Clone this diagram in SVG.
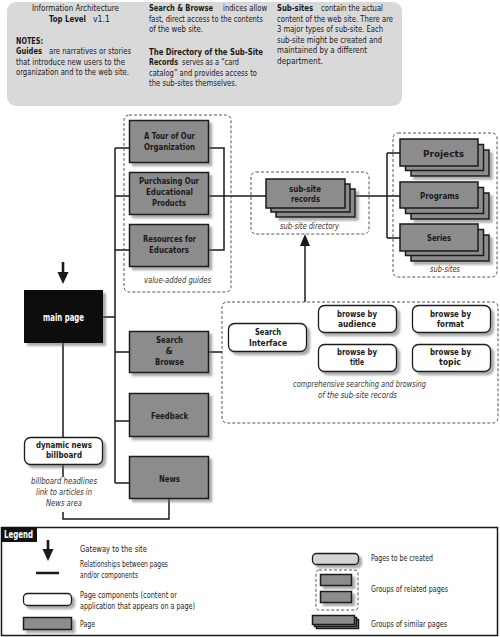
<svg xmlns="http://www.w3.org/2000/svg" width="500" height="637" viewBox="0 0 500 637">
<style>
text{font-family:"Liberation Sans Narrow","DejaVu Sans Condensed","Liberation Sans",sans-serif;fill:#1a1a1a}
.n{font-size:8.8px}
.hb{font-weight:bold}
.b{font-size:9.2px;font-weight:bold;text-anchor:middle}
.bw{font-size:10px;font-weight:bold;text-anchor:middle;fill:#fff}
.i{font-size:9px;font-style:italic;text-anchor:middle;fill:#333}
.pg{fill:#8c8c8c;stroke:#1a1a1a;stroke-width:1.5}
.cp{fill:#fff;stroke:#1a1a1a;stroke-width:1.3}
.grp{fill:none;stroke:#555;stroke-width:1;stroke-dasharray:3 2}
.ln{fill:none;stroke:#1a1a1a;stroke-width:1.5}
.sh{filter:url(#ds)}
</style>
<defs>
<filter id="ds" x="-20%" y="-20%" width="150%" height="160%">
<feDropShadow dx="3" dy="3" stdDeviation="1.2" flood-color="#666" flood-opacity="0.55"/>
</filter>
</defs>

<g id="notes">
<rect x="7" y="2" width="395" height="104" rx="9" fill="#d9d9d9"/>
<text class="n" x="75.5" y="11.3" text-anchor="middle" textLength="87" lengthAdjust="spacingAndGlyphs">Information Architecture</text>
<text class="n hb" x="49" y="21.7" textLength="37" lengthAdjust="spacingAndGlyphs">Top Level</text>
<text class="n" x="93" y="21.7" textLength="17" lengthAdjust="spacingAndGlyphs">v1.1</text>
<text class="n hb" x="16" y="43.5" textLength="27" lengthAdjust="spacingAndGlyphs">NOTES:</text>
<text class="n hb" x="16" y="54" textLength="26" lengthAdjust="spacingAndGlyphs">Guides</text>
<text class="n" x="49" y="54" textLength="82" lengthAdjust="spacingAndGlyphs">are narratives or stories</text>
<text class="n" x="16" y="64.5" textLength="109" lengthAdjust="spacingAndGlyphs">that introduce new users to the</text>
<text class="n" x="16" y="75" textLength="113" lengthAdjust="spacingAndGlyphs">organization and to the web site.</text>
<text class="n hb" x="149" y="11.3" textLength="64" lengthAdjust="spacingAndGlyphs">Search &amp; Browse</text>
<text class="n" x="223" y="11.3" textLength="44" lengthAdjust="spacingAndGlyphs">indices allow</text>
<text class="n" x="149" y="21.7" textLength="114" lengthAdjust="spacingAndGlyphs">fast, direct access to the contents</text>
<text class="n" x="149" y="32.3" textLength="54" lengthAdjust="spacingAndGlyphs">of the web site.</text>
<text class="n hb" x="149" y="55" textLength="114" lengthAdjust="spacingAndGlyphs">The Directory of the Sub-Site</text>
<text class="n hb" x="149" y="65.4" textLength="29" lengthAdjust="spacingAndGlyphs">Records</text>
<text class="n" x="182" y="65.4" textLength="57" lengthAdjust="spacingAndGlyphs">serves as a “card</text>
<text class="n" x="149" y="75.8" textLength="108" lengthAdjust="spacingAndGlyphs">catalog” and provides access to</text>
<text class="n" x="149" y="86.2" textLength="88" lengthAdjust="spacingAndGlyphs">the sub-sites themselves.</text>
<text class="n hb" x="277" y="11.3" textLength="36" lengthAdjust="spacingAndGlyphs">Sub-sites</text>
<text class="n" x="321" y="11.3" textLength="62" lengthAdjust="spacingAndGlyphs">contain the actual</text>
<text class="n" x="277" y="21.7" textLength="116" lengthAdjust="spacingAndGlyphs">content of the web site. There are</text>
<text class="n" x="277" y="32.3" textLength="106" lengthAdjust="spacingAndGlyphs">3 major types of sub-site. Each</text>
<text class="n" x="277" y="42.8" textLength="105" lengthAdjust="spacingAndGlyphs">sub-site might be created and</text>
<text class="n" x="277" y="53.4" textLength="90" lengthAdjust="spacingAndGlyphs">maintained by a different</text>
<text class="n" x="277" y="64" textLength="46" lengthAdjust="spacingAndGlyphs">department.</text>
</g>

<g id="connectors">
<path class="ln" d="M115,148 V483"/>
<path class="ln" d="M115,148 H129 M115,196 H129 M115,250 H129 M103,317 H115 M115,352 H129 M115,421 H129 M115,483 H129"/>
<path class="ln" d="M209,148 H224 V250 H209"/>
<path class="ln" d="M209,196 H266"/>
<path class="ln" d="M345,196 H387 M387,153 V238 M387,153 H400 M387,196 H400 M387,238 H400"/>
<path class="ln" d="M208,352 H222"/>
<path class="ln" d="M305,302 V244"/>
<path d="M300,246 L305,234 L310,246 Z" fill="#1a1a1a"/>
<path class="ln" d="M63,343 V437 M63,465 V477 M63,512 V519 H169 V499"/>
<path d="M63,262 V273" stroke="#1a1a1a" stroke-width="2.6"/>
<path d="M57.5,272 L68.5,272 L63,284 Z" fill="#1a1a1a"/>
</g>

<g id="value-added-guides">
<rect class="grp" x="124" y="115" width="107" height="177" rx="5"/>
<text class="i" x="177.5" y="283" textLength="67" lengthAdjust="spacingAndGlyphs">value-added guides</text>
</g>
<g id="tour">
<rect class="pg sh" x="129.5" y="120.5" width="79" height="42"/>
<text class="b" x="169.5" y="139.3" textLength="51" lengthAdjust="spacingAndGlyphs">A Tour of Our</text>
<text class="b" x="169.5" y="150" textLength="51" lengthAdjust="spacingAndGlyphs">Organization</text>
</g>
<g id="purchasing">
<rect class="pg sh" x="129.5" y="172.5" width="79" height="42"/>
<text class="b" x="169" y="184.3" textLength="60" lengthAdjust="spacingAndGlyphs">Purchasing Our</text>
<text class="b" x="169.5" y="195" textLength="47" lengthAdjust="spacingAndGlyphs">Educational</text>
<text class="b" x="169" y="205.7" textLength="34" lengthAdjust="spacingAndGlyphs">Products</text>
</g>
<g id="resources">
<rect class="pg sh" x="129.5" y="224.5" width="79" height="42"/>
<text class="b" x="169.5" y="242.3" textLength="53" lengthAdjust="spacingAndGlyphs">Resources for</text>
<text class="b" x="169" y="252.7" textLength="40" lengthAdjust="spacingAndGlyphs">Educators</text>
</g>

<g id="sub-site-directory">
<rect class="grp" x="251" y="172" width="118" height="62" rx="5"/>
<text class="i" x="309.5" y="229" textLength="59" lengthAdjust="spacingAndGlyphs">sub-site directory</text>
</g>
<g id="sub-site-records">
<rect class="pg sh" x="276" y="189" width="79" height="28"/>
<rect class="pg" x="271" y="184" width="79" height="28"/>
<rect class="pg" x="266" y="179" width="79" height="29"/>
<text class="b" x="305" y="191.7" textLength="32" lengthAdjust="spacingAndGlyphs">sub-site</text>
<text class="b" x="305.5" y="202" textLength="29" lengthAdjust="spacingAndGlyphs">records</text>
</g>

<g id="sub-sites">
<rect class="grp" x="393" y="133" width="104" height="144" rx="5"/>
<text class="i" x="445" y="272" textLength="30" lengthAdjust="spacingAndGlyphs">sub-sites</text>
</g>
<g id="projects">
<rect class="pg sh" x="411" y="150" width="78" height="26"/>
<rect class="pg" x="405.5" y="144.5" width="78" height="26"/>
<rect class="pg" x="400" y="139" width="78" height="27"/>
<text class="b" x="443.5" y="156.7" textLength="41" lengthAdjust="spacingAndGlyphs">Projects</text>
</g>
<g id="programs">
<rect class="pg sh" x="411" y="193" width="78" height="26"/>
<rect class="pg" x="405.5" y="187.5" width="78" height="26"/>
<rect class="pg" x="400" y="182" width="78" height="26"/>
<text class="b" x="439.5" y="199" textLength="39" lengthAdjust="spacingAndGlyphs">Programs</text>
</g>
<g id="series">
<rect class="pg sh" x="411" y="235" width="78" height="26"/>
<rect class="pg" x="405.5" y="229.5" width="78" height="26"/>
<rect class="pg" x="400" y="224" width="78" height="27"/>
<text class="b" x="439" y="241" textLength="24" lengthAdjust="spacingAndGlyphs">Series</text>
</g>

<g id="main-page">
<rect x="24" y="290" width="79" height="53" fill="#111" class="sh"/>
<text class="bw" x="63.5" y="321" textLength="41" lengthAdjust="spacingAndGlyphs">main page</text>
</g>

<g id="search-browse">
<rect class="pg sh" x="129.5" y="331.5" width="79" height="41"/>
<text class="b" x="169.5" y="343.3" textLength="27" lengthAdjust="spacingAndGlyphs">Search</text>
<text class="b" x="169" y="354.3">&amp;</text>
<text class="b" x="169.5" y="365" textLength="29" lengthAdjust="spacingAndGlyphs">Browse</text>
</g>
<g id="feedback">
<rect class="pg sh" x="129.5" y="393.5" width="79" height="43"/>
<text class="b" x="169.5" y="419" textLength="37" lengthAdjust="spacingAndGlyphs">Feedback</text>
</g>
<g id="news">
<rect class="pg sh" x="129.5" y="456.5" width="79" height="42"/>
<text class="b" x="169.5" y="481.7" textLength="21" lengthAdjust="spacingAndGlyphs">News</text>
</g>

<g id="billboard">
<rect class="cp sh" x="24.5" y="437.5" width="78" height="27" rx="6"/>
<text class="b" x="64" y="448" textLength="56" lengthAdjust="spacingAndGlyphs">dynamic news</text>
<text class="b" x="64" y="458.3" textLength="36" lengthAdjust="spacingAndGlyphs">billboard</text>
<text class="i" x="64" y="484.3" textLength="66" lengthAdjust="spacingAndGlyphs">billboard headlines</text>
<text class="i" x="64" y="495" textLength="56" lengthAdjust="spacingAndGlyphs">link to articles in</text>
<text class="i" x="64" y="505.7" textLength="36" lengthAdjust="spacingAndGlyphs">News area</text>
</g>

<g id="search-group">
<rect class="grp" x="222" y="302" width="276" height="121" rx="5"/>
<text class="i" x="359.5" y="386.7" textLength="133" lengthAdjust="spacingAndGlyphs">comprehensive searching and browsing</text>
<text class="i" x="357.5" y="397.7" textLength="79" lengthAdjust="spacingAndGlyphs">of the sub-site records</text>
</g>
<g id="search-interface">
<rect class="cp sh" x="228.5" y="323.5" width="78" height="28" rx="6"/>
<text class="b" x="268" y="335" textLength="26" lengthAdjust="spacingAndGlyphs">Search</text>
<text class="b" x="268" y="345.7" textLength="38" lengthAdjust="spacingAndGlyphs">Interface</text>
</g>
<g id="browse-audience">
<rect class="cp sh" x="318.5" y="305.5" width="78" height="27" rx="6"/>
<text class="b" x="357" y="316.7" textLength="40" lengthAdjust="spacingAndGlyphs">browse by</text>
<text class="b" x="357" y="326.7" textLength="38" lengthAdjust="spacingAndGlyphs">audience</text>
</g>
<g id="browse-title">
<rect class="cp sh" x="318.5" y="344.5" width="78" height="27" rx="6"/>
<text class="b" x="357" y="355" textLength="40" lengthAdjust="spacingAndGlyphs">browse by</text>
<text class="b" x="357" y="365" textLength="14" lengthAdjust="spacingAndGlyphs">title</text>
</g>
<g id="browse-format">
<rect class="cp sh" x="412.5" y="305.5" width="78" height="27" rx="6"/>
<text class="b" x="450.5" y="316.7" textLength="41" lengthAdjust="spacingAndGlyphs">browse by</text>
<text class="b" x="450.5" y="326.7" textLength="27" lengthAdjust="spacingAndGlyphs">format</text>
</g>
<g id="browse-topic">
<rect class="cp sh" x="412.5" y="344.5" width="78" height="27" rx="6"/>
<text class="b" x="450.5" y="355" textLength="41" lengthAdjust="spacingAndGlyphs">browse by</text>
<text class="b" x="450" y="365" textLength="22" lengthAdjust="spacingAndGlyphs">topic</text>
</g>

<g id="legend">
<rect x="1.5" y="527.5" width="496" height="108" fill="#fff" stroke="#1a1a1a" stroke-width="1.5"/>
<rect x="1" y="527" width="36" height="15" fill="#111"/>
<text x="4" y="538" font-size="10" font-weight="bold" style="fill:#fff" textLength="29" lengthAdjust="spacingAndGlyphs">Legend</text>
<path d="M48,540 V550" stroke="#1a1a1a" stroke-width="2.6"/>
<path d="M42.5,549 L53.5,549 L48,561 Z" fill="#1a1a1a"/>
<text class="n" x="80" y="552" textLength="67" lengthAdjust="spacingAndGlyphs">Gateway to the site</text>
<path d="M36,573 H59" stroke="#1a1a1a" stroke-width="2.5"/>
<text class="n" x="80" y="567" textLength="88" lengthAdjust="spacingAndGlyphs">Relationships between pages</text>
<text class="n" x="80" y="578" textLength="58" lengthAdjust="spacingAndGlyphs">and/or components</text>
<rect class="cp sh" x="23.5" y="593.5" width="48" height="12" rx="4"/>
<text class="n" x="80" y="598" textLength="97" lengthAdjust="spacingAndGlyphs">Page components (content or</text>
<text class="n" x="80" y="608.5" textLength="115" lengthAdjust="spacingAndGlyphs">application that appears on a page)</text>
<rect class="pg sh" x="23.5" y="617.5" width="48" height="12"/>
<text class="n" x="80" y="627" textLength="15" lengthAdjust="spacingAndGlyphs">Page</text>
<rect x="312.5" y="553.5" width="46" height="11" rx="4" fill="#d4d4d4" stroke="#1a1a1a" stroke-width="1.3" class="sh"/>
<text class="n" x="371" y="561" textLength="62" lengthAdjust="spacingAndGlyphs">Pages to be created</text>
<rect class="grp" x="316" y="570" width="42" height="40" rx="3"/>
<rect class="pg sh" x="320.5" y="574.5" width="31" height="11"/>
<rect class="pg sh" x="320.5" y="591.5" width="31" height="11"/>
<text class="n" x="371" y="592" textLength="77" lengthAdjust="spacingAndGlyphs">Groups of related pages</text>
<rect class="pg" x="316.5" y="619.5" width="42" height="9"/>
<rect class="pg" x="314.5" y="617.5" width="42" height="9"/>
<rect class="pg" x="312.5" y="615.5" width="42" height="9"/>
<text class="n" x="371" y="627" textLength="76" lengthAdjust="spacingAndGlyphs">Groups of similar pages</text>
</g>
</svg>
